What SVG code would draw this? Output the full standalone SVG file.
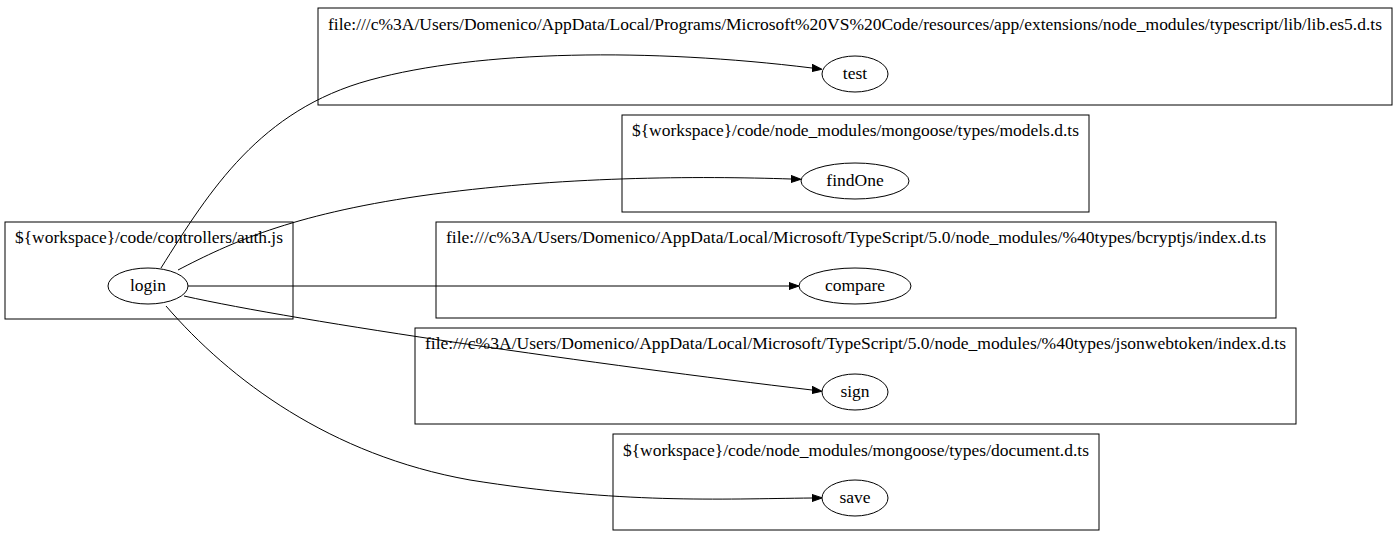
<svg xmlns="http://www.w3.org/2000/svg" width="1397" height="545" viewBox="0 0 1397 545">
<style>
text{font-family:"Liberation Serif","Times New Roman",serif;font-size:17.5px;fill:#000;text-anchor:middle}
.cl{fill:none;stroke:#000;stroke-width:1}
.nd{fill:none;stroke:#000;stroke-width:1}
.ed{fill:none;stroke:#000;stroke-width:1}
</style>
<defs>
<marker id="ah" markerWidth="10" markerHeight="8" refX="0" refY="3.5" orient="auto" markerUnits="userSpaceOnUse" viewBox="0 0 10 7">
<polygon points="0,0 10,3.5 0,7" fill="#000" stroke="#000"/>
</marker>
</defs>
<rect width="1397" height="545" fill="#fff"/>
<g id="cluster_auth">
<rect class="cl" x="5" y="222" width="288" height="97"/>
<text x="149" y="243" textLength="268" lengthAdjust="spacingAndGlyphs">${workspace}/code/controllers/auth.js</text>
</g>
<g id="cluster_lib">
<rect class="cl" x="318" y="8" width="1074" height="97"/>
<text x="855" y="30" textLength="1054" lengthAdjust="spacingAndGlyphs">file:///c%3A/Users/Domenico/AppData/Local/Programs/Microsoft%20VS%20Code/resources/app/extensions/node_modules/typescript/lib/lib.es5.d.ts</text>
</g>
<g id="cluster_models">
<rect class="cl" x="622" y="115" width="467" height="97"/>
<text x="855.5" y="136" textLength="447" lengthAdjust="spacingAndGlyphs">${workspace}/code/node_modules/mongoose/types/models.d.ts</text>
</g>
<g id="cluster_bcrypt">
<rect class="cl" x="436" y="222" width="840" height="96"/>
<text x="856" y="243" textLength="820" lengthAdjust="spacingAndGlyphs">file:///c%3A/Users/Domenico/AppData/Local/Microsoft/TypeScript/5.0/node_modules/%40types/bcryptjs/index.d.ts</text>
</g>
<g id="cluster_jwt">
<rect class="cl" x="415" y="328" width="881" height="96"/>
<text x="855.5" y="349" textLength="861" lengthAdjust="spacingAndGlyphs">file:///c%3A/Users/Domenico/AppData/Local/Microsoft/TypeScript/5.0/node_modules/%40types/jsonwebtoken/index.d.ts</text>
</g>
<g id="cluster_document">
<rect class="cl" x="613" y="434" width="486" height="96"/>
<text x="856" y="456" textLength="466" lengthAdjust="spacingAndGlyphs">${workspace}/code/node_modules/mongoose/types/document.d.ts</text>
</g>
<g id="edges">
<path class="ed" d="M161,268 C210,190 260,110 370,80 C480,50 650,48 812,68" marker-end="url(#ah)"/>
<path class="ed" d="M178,270 C230,243 290,215 420,196 C560,176 700,176 791,179" marker-end="url(#ah)"/>
<path class="ed" d="M188,286 L789,286" marker-end="url(#ah)"/>
<path class="ed" d="M184,296 C300,322 600,365 812,390" marker-end="url(#ah)"/>
<path class="ed" d="M166,306 C230,380 330,455 470,480 C620,504 720,499 812,498" marker-end="url(#ah)"/>
</g>
<g id="node_login">
<ellipse class="nd" cx="148" cy="286" rx="40" ry="18"/>
<text x="148" y="291">login</text>
</g>
<g id="node_test">
<ellipse class="nd" cx="855" cy="74" rx="33" ry="18"/>
<text x="855" y="79">test</text>
</g>
<g id="node_findOne">
<ellipse class="nd" cx="855" cy="181" rx="54" ry="18"/>
<text x="855" y="186">findOne</text>
</g>
<g id="node_compare">
<ellipse class="nd" cx="855" cy="286" rx="56" ry="18"/>
<text x="855" y="291">compare</text>
</g>
<g id="node_sign">
<ellipse class="nd" cx="855" cy="392" rx="33" ry="18"/>
<text x="855" y="397">sign</text>
</g>
<g id="node_save">
<ellipse class="nd" cx="855" cy="498" rx="33" ry="18"/>
<text x="855" y="503">save</text>
</g>
</svg>
